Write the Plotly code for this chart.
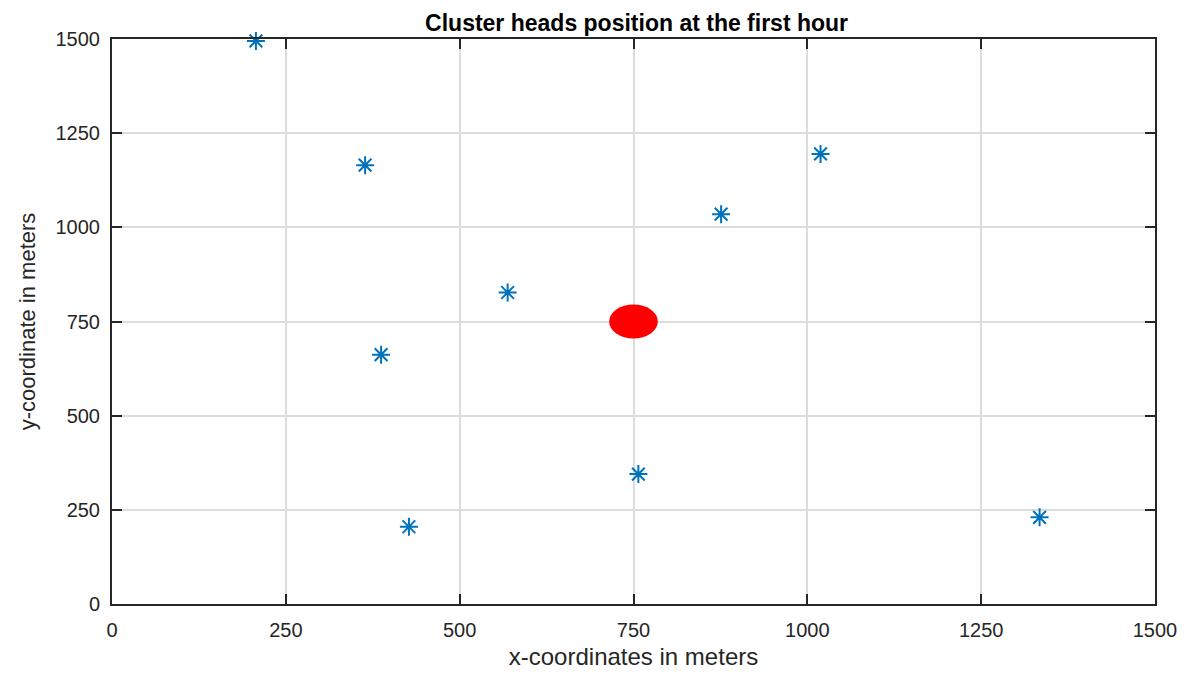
import plotly.graph_objects as go

# cluster head positions (meters)
ch_x = [207, 364, 387, 427, 569, 757, 876, 1019, 1334]
ch_y = [1495, 1165, 662, 205, 827, 345, 1035, 1195, 230]

# sink / base station
sink_x = 750
sink_y = 750
sink_rx = 35
sink_ry = 45

ticks = [0, 250, 500, 750, 1000, 1250, 1500]

FONT = "Liberation Sans, Arial"

fig = go.Figure()

fig.add_trace(go.Scatter(
    x=ch_x, y=ch_y, mode="markers", name="cluster heads",
    marker=dict(symbol="asterisk-open", size=15, color="#0072BD",
                line=dict(color="#0072BD", width=2)),
    cliponaxis=False))

fig.add_shape(type="circle", xref="x", yref="y",
              x0=sink_x - sink_rx, x1=sink_x + sink_rx,
              y0=sink_y - sink_ry, y1=sink_y + sink_ry,
              fillcolor="#FF0000", line=dict(color="#FF0000", width=0))

axis_style = dict(
    range=[0, 1500], tickvals=ticks, ticks="inside", ticklen=10,
    tickcolor="#262626", tickwidth=2,
    showline=True, linecolor="#262626", linewidth=2, mirror="ticks",
    showgrid=True, gridcolor="#DCDCDC", gridwidth=1.5,
    zeroline=False,
    tickfont=dict(family=FONT, size=20, color="#262626"),
)

# page body has an 8px margin, so the figure is a bit smaller than the window
fig.update_layout(
    width=1186, height=670,
    margin=dict(l=104, r=39, t=31, b=65),
    paper_bgcolor="white", plot_bgcolor="white",
    showlegend=False,
    title=dict(text="<b>Cluster heads position at the first hour</b>",
               x=0.530, xanchor="center", y=0.977, yanchor="middle",
               font=dict(family=FONT, size=23, color="black")),
    xaxis=dict(axis_style, ticklabelstandoff=7,
               title=dict(text="x-coordinates in meters", standoff=8,
                          font=dict(family=FONT, size=24, color="#262626"))),
    yaxis=dict(axis_style, ticklabelstandoff=6,
               title=dict(text="y-coordinate in meters", standoff=14,
                          font=dict(family=FONT, size=22, color="#262626"))),
)

fig.write_html("out.html")
